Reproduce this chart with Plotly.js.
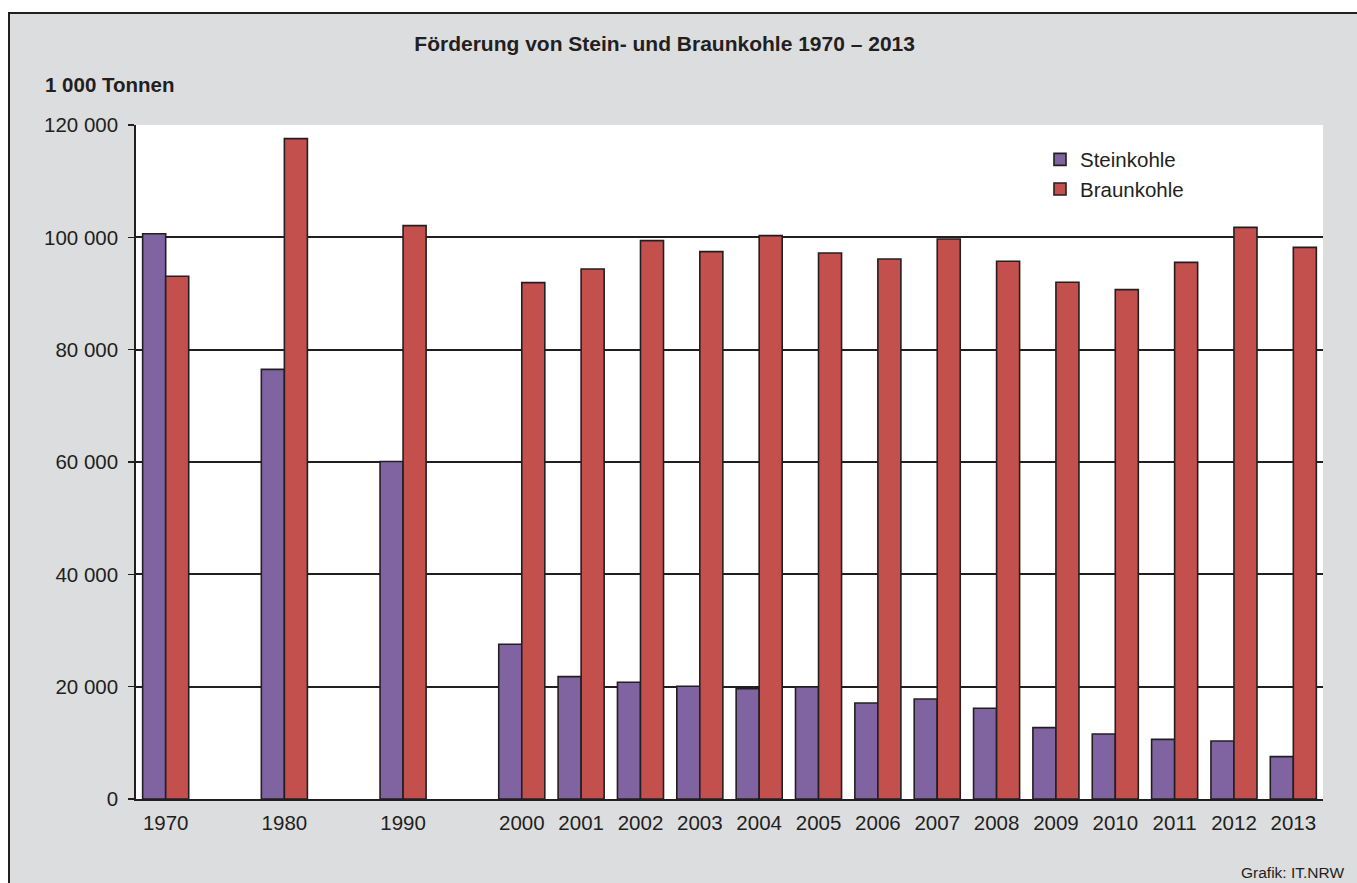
<!DOCTYPE html>
<html>
<head>
<meta charset="utf-8">
<script src="https://cdn.plot.ly/plotly-3.0.1.min.js"></script>
<style>
  html, body { margin: 0; padding: 0; background: #ffffff; overflow: hidden; width: 1357px; height: 883px; }
  #frame { position: absolute; left: 8px; top: 12px; border-left: 2px solid #231f20; border-top: 2px solid #231f20; background: #dcdddf; width: 1347px; height: 869px; }
  #chart { width: 1347px; height: 869px; }
</style>
</head>
<body>
<div id="frame"><div id="chart"></div></div>
<script>
// ---- data (1 000 Tonnen) ----
var years = ['1970', '1980', '1990', '2000', '2001', '2002', '2003', '2004', '2005', '2006', '2007', '2008', '2009', '2010', '2011', '2012', '2013'];
var steinkohle = [100650, 76500, 60100, 27550, 21780, 20780, 20070, 19650, 19950, 17100, 17810, 16150, 12700, 11560, 10620, 10320, 7540];
var braunkohle = [93060, 117570, 102080, 91940, 94370, 99410, 97450, 100300, 97220, 96150, 99710, 95730, 91990, 90690, 95550, 101780, 98220];
var seriesNames = ['Steinkohle', 'Braunkohle'];
var yTickValues = [0, 20000, 40000, 60000, 80000, 100000, 120000];
var titleText = 'Förderung von Stein- und Braunkohle 1970 – 2013';
var unitText = '1 000 Tonnen';
var sourceText = 'Grafik: IT.NRW';

// category order with empty slots between the decades
var categoryOrder = ['1970', 'gap1', '1980', 'gap2', '1990', 'gap3'].concat(years.slice(3));

var ink = '#231f20';
var FONT = 'Liberation Sans, Arial, sans-serif';

var traces = [
  { type: 'bar', name: seriesNames[0], x: years, y: steinkohle,
    marker: { color: '#8064a2', line: { color: ink, width: 1.6 } }, hoverinfo: 'x+y+name' },
  { type: 'bar', name: seriesNames[1], x: years, y: braunkohle,
    marker: { color: '#c4504e', line: { color: ink, width: 1.6 } }, hoverinfo: 'x+y+name' }
];

var W = 1347, H = 869, L = 126, R = 34, T = 111, B = 84;
var pw = W - L - R, ph = H - T - B;

var layout = {
  width: W, height: H,
  margin: { l: L, r: R, t: T, b: B, pad: 0, autoexpand: false },
  paper_bgcolor: '#dcdddf',
  plot_bgcolor: '#ffffff',
  separators: ', ',
  font: { family: FONT, size: 20.5, color: ink },
  barmode: 'group',
  bargap: 0.224,
  bargroupgap: 0,
  title: { text: '<b>' + titleText + '</b>', font: { family: FONT, size: 21, color: ink },
           x: 0.486, xanchor: 'center', xref: 'container', y: 0.9655, yanchor: 'middle', yref: 'container' },
  xaxis: {
    type: 'category', categoryorder: 'array', categoryarray: categoryOrder,
    range: [-0.5, categoryOrder.length - 0.5],
    tickmode: 'array', tickvals: years, ticktext: years, tickangle: 0,
    ticks: '', showgrid: false, zeroline: false,
    showline: true, linecolor: ink, linewidth: 1.8,
    tickfont: { family: FONT, size: 20.5, color: ink },
    ticklabelstandoff: 5, fixedrange: true, automargin: false
  },
  yaxis: {
    range: [0, 120000], tickmode: 'array', tickvals: yTickValues,
    tickformat: ',d',
    ticks: 'outside', ticklen: 6, tickwidth: 1.6, tickcolor: ink,
    showgrid: true, gridcolor: ink, gridwidth: 1.8,
    zeroline: false, showline: true, linecolor: ink, linewidth: 1.8,
    tickfont: { family: FONT, size: 20.5, color: ink },
    ticklabelstandoff: 6, fixedrange: true, automargin: false
  },
  showlegend: true,
  legend: {
    x: (1030 - L) / pw, xref: 'paper', xanchor: 'left',
    y: (H - B - 125.5) / ph, yref: 'paper', yanchor: 'top',
    bgcolor: 'rgba(0,0,0,0)', borderwidth: 0,
    font: { family: FONT, size: 20.5, color: ink },
    traceorder: 'normal'
  },
  annotations: [
    { text: '<b>' + unitText + '</b>', xref: 'paper', yref: 'paper',
      x: (33 - L) / pw, xanchor: 'left', y: (H - B - 70) / ph, yanchor: 'middle',
      showarrow: false, font: { family: FONT, size: 20.5, color: ink } },
    { text: sourceText, xref: 'paper', yref: 'paper',
      x: (1336 - L) / pw, xanchor: 'right', y: (H - B - 858.5) / ph, yanchor: 'middle',
      showarrow: false, font: { family: FONT, size: 15.5, color: ink } }
  ]
};

Plotly.newPlot('chart', traces, layout, { displayModeBar: false, staticPlot: true });
</script>
</body>
</html>
